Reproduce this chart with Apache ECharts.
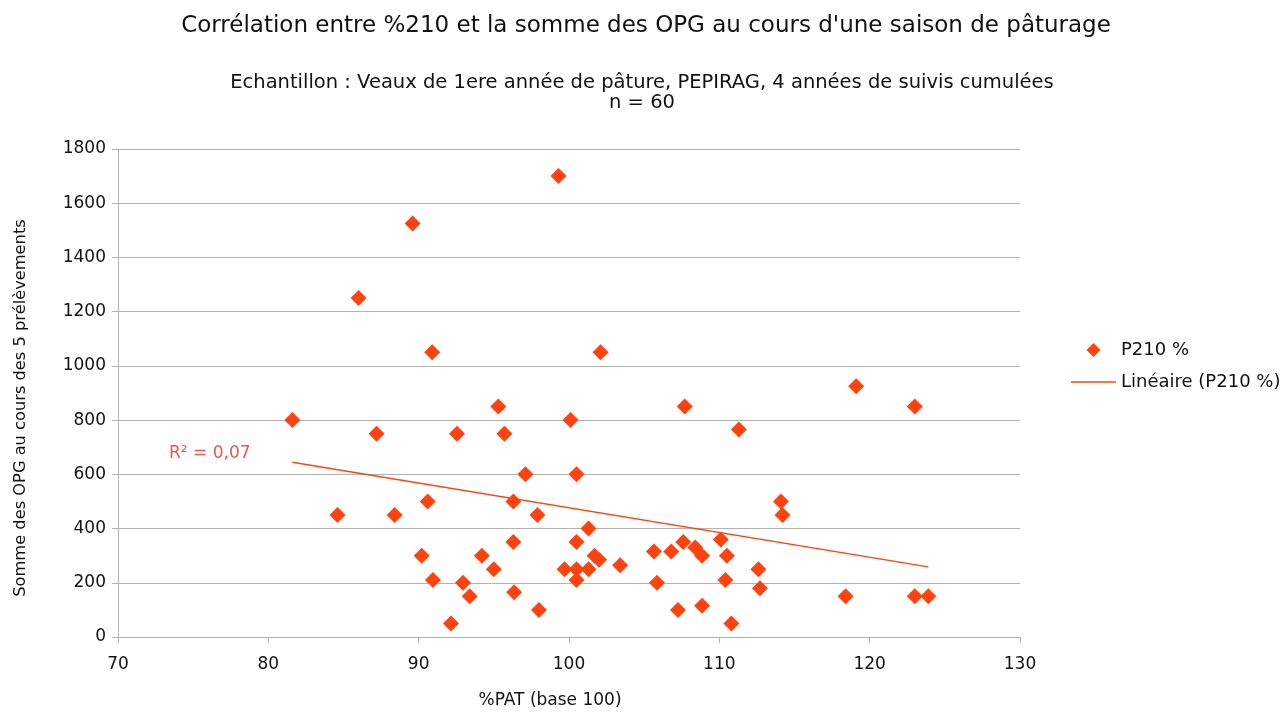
<!DOCTYPE html>
<html>
<head>
<meta charset="utf-8">
<script src="https://cdn.jsdelivr.net/npm/echarts@6/dist/echarts.min.js"></script>
<style>
  html, body { margin: 0; padding: 0; background: #fff; }
  #chart { width: 1284px; height: 713px; }
</style>
</head>
<body>
<div id="chart"></div>
<script>
// %PAT (base 100)
const patValues = [
  81.6, 84.6, 86.0, 87.2, 88.4, 89.6, 90.2, 90.6, 90.9, 90.95,
  92.15, 92.55, 92.95, 93.4, 94.2, 95.0, 95.3, 95.7, 96.3, 96.3,
  96.35, 97.1, 97.9, 98.0, 99.3, 99.7, 100.1, 100.5, 100.5, 100.5,
  100.5, 101.3, 101.3, 101.7, 102.0, 102.1, 103.4, 105.65, 105.85, 106.8,
  107.25, 107.6, 107.7, 108.4, 108.85, 108.85, 110.1, 110.4, 110.5, 110.8,
  111.3, 112.6, 112.7, 114.1, 114.2, 118.4, 119.1, 123.0, 123.0, 123.9
]
// somme des OPG
const opgValues = [
  800, 450, 1250, 750, 450, 1525, 300, 500, 1050, 210,
  50, 750, 200, 150, 300, 250, 850, 750, 500, 350,
  165, 600, 450, 100, 1700, 250, 800, 350, 600, 250,
  210, 250, 400, 300, 285, 1050, 265, 315, 200, 315,
  100, 350, 850, 330, 300, 115, 360, 210, 300, 50,
  765, 250, 180, 500, 450, 150, 925, 850, 150, 150
]
const xTicks = [70, 130, 10]
const yTicks = [0, 1800, 200]

const points = patValues.map((x, i) => [x, opgValues[i]])

// régression linéaire
const n = points.length
let sx = 0, sy = 0, sxx = 0, sxy = 0
points.forEach(p => { sx += p[0]; sy += p[1]; sxx += p[0] * p[0]; sxy += p[0] * p[1] })
const slope = (n * sxy - sx * sy) / (n * sxx - sx * sx)
const intercept = (sy - slope * sx) / n
const xMin = Math.min(...patValues)
const xMax = Math.max(...patValues)
const trend = [[xMin, intercept + slope * xMin], [xMax, intercept + slope * xMax]]

const font = '"DejaVu Sans", "Liberation Sans", sans-serif'
const orange = '#ff420e'
const ink = '#111'

const myChart = echarts.init(document.getElementById('chart'))
const option = {
  backgroundColor: '#fff',
  animation: false,
  textStyle: { fontFamily: font },
  title: [
    {
      text: 'Corrélation entre %210 et la somme des OPG au cours d\'une saison de pâturage',
      left: 641,
      textAlign: 'center',
      top: 10,
      textStyle: { fontFamily: font, fontSize: 23, fontWeight: 'normal', color: ink }
    },
    {
      text: 'Echantillon : Veaux de 1ere année de pâture, PEPIRAG, 4 années de suivis cumulées\nn = 60',
      left: 637,
      textAlign: 'center',
      top: 68,
      textStyle: { fontFamily: font, fontSize: 19.5, fontWeight: 'normal', color: ink, lineHeight: 20, align: 'center' }
    }
  ],
  legend: {
    orient: 'vertical',
    left: 1066,
    top: 336,
    itemWidth: 45,
    itemHeight: 14,
    itemGap: 14,
    symbolKeepAspect: true,
    textStyle: { fontFamily: font, fontSize: 18, color: ink },
    data: [
      { name: 'P210 %', icon: 'path://M0,-1L1,0L0,1L-1,0Z' },
      { name: 'Linéaire (P210 %)', icon: 'path://M0,0H45V1.3H0Z' }
    ]
  },
  grid: {
    left: 118,
    right: 264,
    top: 149,
    bottom: 76,
    outerBoundsMode: 'none'
  },
  xAxis: {
    type: 'value',
    min: xTicks[0],
    max: xTicks[1],
    interval: xTicks[2],
    name: '%PAT (base 100)',
    nameLocation: 'middle',
    nameGap: 55,
    nameTextStyle: { fontFamily: font, fontSize: 17, color: ink, padding: [0, 38, 0, 0] },
    axisLine: { show: true, lineStyle: { color: '#b3b3b3' } },
    axisTick: { show: true, inside: false, length: 6, lineStyle: { color: '#b3b3b3' } },
    axisLabel: { fontFamily: font, fontSize: 17, color: ink, margin: 19 },
    splitLine: { show: false }
  },
  yAxis: {
    type: 'value',
    min: yTicks[0],
    max: yTicks[1],
    interval: yTicks[2],
    name: 'Somme des OPG au cours des 5 prélèvements',
    nameLocation: 'middle',
    nameGap: 89,
    nameTextStyle: { fontFamily: font, fontSize: 16.25, color: ink, padding: [0, 30, 0, 0] },
    axisLine: { show: true, lineStyle: { color: '#b3b3b3' } },
    axisTick: { show: true, inside: false, length: 6, lineStyle: { color: '#b3b3b3' } },
    axisLabel: { fontFamily: font, fontSize: 17, color: ink, margin: 12, formatter: v => String(v) },
    splitLine: { show: true, lineStyle: { color: '#b3b3b3', width: 1 } }
  },
  graphic: [
    {
      type: 'text',
      left: 169,
      top: 445,
      style: { text: 'R² = 0,07', fontFamily: font, fontSize: 17, fill: '#f0554a' }
    }
  ],
  series: [
    {
      name: 'Linéaire (P210 %)',
      type: 'line',
      data: trend,
      symbol: 'none',
      lineStyle: { color: orange, width: 1.3 },
      itemStyle: { color: orange },
      z: 1
    },
    {
      name: 'P210 %',
      type: 'scatter',
      symbol: 'diamond',
      symbolSize: 16,
      data: points,
      itemStyle: { color: orange, opacity: 1 },
      z: 2
    }
  ]
}
myChart.setOption(option)
</script>
</body>
</html>
